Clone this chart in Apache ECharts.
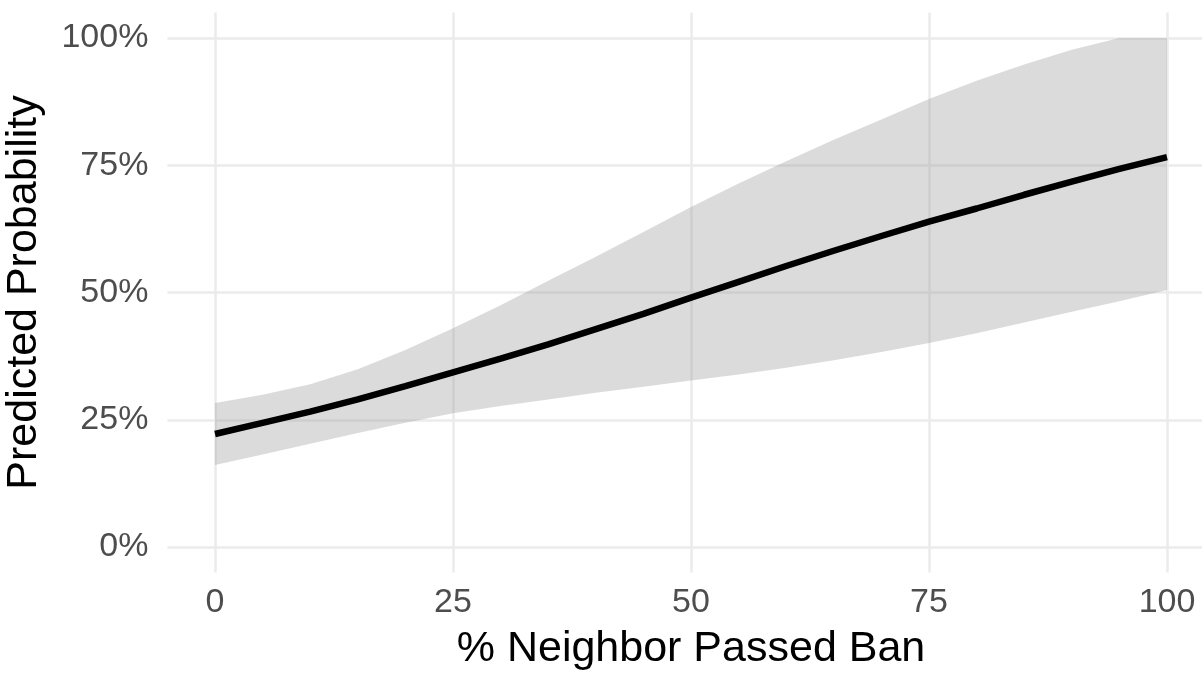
<!DOCTYPE html>
<html>
<head>
<meta charset="utf-8">
<script src="https://cdn.jsdelivr.net/npm/echarts@6/dist/echarts.min.js"></script>
<style>html,body{margin:0;padding:0;background:#fff;}#chart{width:1202px;height:673px;}</style>
</head>
<body>
<div id="chart"></div>
<script>
// % Neighbor Passed Ban (x values)
const xValues = [0, 5, 10, 15, 20, 25, 30, 35, 40, 45, 50, 55, 60, 65, 70, 75, 80, 85, 90, 95, 100];
// Predicted probability (%), fitted line
const fitValues = [22.2, 24.4, 26.6, 29.0, 31.6, 34.3, 37.0, 39.8, 42.8, 45.8, 49.0, 52.1, 55.2, 58.2, 61.1, 63.9, 66.5, 69.2, 71.8, 74.3, 76.6];
// Confidence band lower and upper bounds (%)
const lowerValues = [16.1, 18.2, 20.3, 22.4, 24.4, 26.3, 27.7, 29.0, 30.3, 31.5, 32.7, 33.9, 35.2, 36.7, 38.3, 40.1, 42.0, 44.1, 46.2, 48.3, 50.5];
const upperValues = [28.3, 29.9, 32.0, 34.9, 38.7, 43.0, 47.5, 52.3, 57.0, 61.9, 66.8, 71.4, 75.8, 80.0, 84.0, 88.0, 91.6, 94.8, 97.7, 100, 100];
// Tick labels
const xTicks = [0, 25, 50, 75, 100];
const yTicks = [0, 25, 50, 75, 100];

const chart = echarts.init(document.getElementById('chart'));
const font = 'Liberation Sans, Arial, Helvetica, sans-serif';
const gridColor = '#ebebeb';
const cycle = ['rgba(0,0,0,0)', gridColor, 'rgba(0,0,0,0)', 'rgba(0,0,0,0)', 'rgba(0,0,0,0)'];

const fitData = xValues.map((x, i) => [x, fitValues[i]]);
const bandData = xValues.map((x, i) => [x, lowerValues[i], upperValues[i]]);

chart.setOption({
  animation: false,
  backgroundColor: '#ffffff',
  grid: { left: 167.4, top: 12.5, width: 1047.2, height: 560, containLabel: false, outerBoundsMode: 'none' },
  xAxis: {
    type: 'value', min: -5, max: 105, interval: 5,
    axisLine: { show: false }, axisTick: { show: false },
    splitLine: { show: true, lineStyle: { color: cycle, width: 2.5 } },
    axisLabel: {
      margin: 13, fontSize: 34, color: '#4d4d4d', fontFamily: font,
      formatter: v => xTicks.indexOf(Math.round(v)) >= 0 && Math.abs(v - Math.round(v)) < 1e-6 ? String(Math.round(v)) : ''
    },
    name: '% Neighbor Passed Ban', nameLocation: 'middle', nameGap: 55,
    nameTextStyle: { fontSize: 43, color: '#000', fontFamily: font }
  },
  yAxis: {
    type: 'value', min: -5, max: 105, interval: 5,
    axisLine: { show: false }, axisTick: { show: false },
    splitLine: { show: true, lineStyle: { color: cycle, width: 2.5 } },
    axisLabel: {
      margin: 19, fontSize: 34, color: '#4d4d4d', fontFamily: font,
      formatter: v => yTicks.indexOf(Math.round(v)) >= 0 && Math.abs(v - Math.round(v)) < 1e-6 ? Math.round(v) + '%' : ''
    },
    name: 'Predicted Probability', nameLocation: 'middle', nameGap: 122,
    nameTextStyle: { fontSize: 43, color: '#000', fontFamily: font }
  },
  series: [
    {
      type: 'custom',
      data: bandData,
      silent: true,
      z: 1,
      renderItem: function (params, api) {
        if (params.dataIndex !== 0) return null;
        const pts = [];
        for (let i = 0; i < bandData.length; i++) pts.push(api.coord([bandData[i][0], bandData[i][2]]));
        for (let i = bandData.length - 1; i >= 0; i--) pts.push(api.coord([bandData[i][0], bandData[i][1]]));
        return {
          type: 'polygon',
          shape: { points: pts, smooth: 0 },
          style: { fill: 'rgba(153,153,153,0.35)', stroke: 'none' }
        };
      }
    },
    {
      type: 'line', data: fitData, symbol: 'none', smooth: false,
      lineStyle: { color: '#000000', width: 6.5, cap: 'butt' }, z: 3
    }
  ]
});
</script>
</body>
</html>
